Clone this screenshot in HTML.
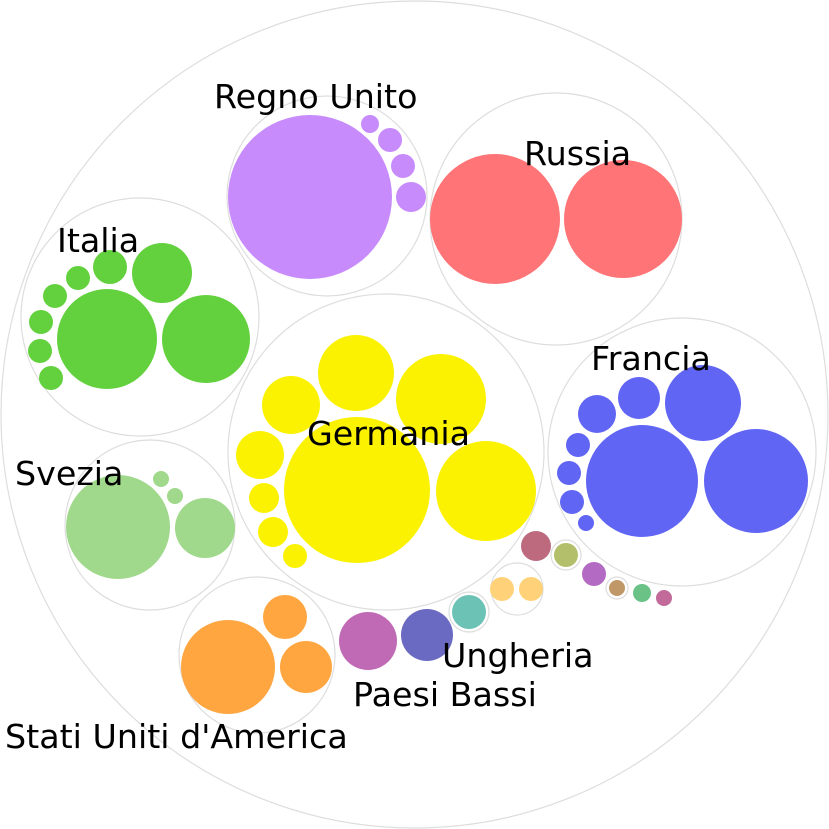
<!DOCTYPE html>
<html><head><style>body{margin:0;background:#fff}svg{display:block}text{font-family:"DejaVu Sans","Liberation Sans",sans-serif;font-size:33.3px;fill:#000}</style></head><body>
<svg width="829" height="829" viewBox="0 0 829 829">
<g fill="none" stroke="#ddd" stroke-width="1.2">
<circle cx="414.5" cy="414.5" r="413.5"/>
<circle cx="327" cy="196" r="100"/>
<circle cx="556" cy="219" r="126"/>
<circle cx="140" cy="317" r="119"/>
<circle cx="386" cy="452" r="158"/>
<circle cx="682" cy="452" r="134"/>
<circle cx="150" cy="525" r="85"/>
<circle cx="257" cy="655" r="78"/>
<circle cx="517" cy="589" r="26"/>
<circle cx="469" cy="612" r="20"/>
<circle cx="566" cy="555" r="15"/>
<circle cx="617" cy="588" r="11"/>
</g>
<g fill="#c78bfc"><circle cx="310" cy="197" r="82"/><circle cx="370" cy="124" r="9"/><circle cx="390" cy="140" r="12"/><circle cx="403" cy="166" r="12"/><circle cx="411" cy="197" r="15"/></g>
<g fill="#ff7477"><circle cx="495" cy="219" r="65"/><circle cx="623" cy="219" r="59"/></g>
<g fill="#63d13e"><circle cx="107" cy="339" r="50"/><circle cx="206" cy="339" r="44"/><circle cx="162" cy="273" r="30"/><circle cx="110" cy="267" r="17"/><circle cx="78" cy="278" r="12"/><circle cx="55" cy="296" r="12"/><circle cx="41" cy="322" r="12"/><circle cx="40" cy="351" r="12"/><circle cx="51" cy="378" r="12"/></g>
<g fill="#faf200"><circle cx="357" cy="490" r="73"/><circle cx="486" cy="491" r="50"/><circle cx="441" cy="399" r="45"/><circle cx="356" cy="373" r="38"/><circle cx="291" cy="405" r="29"/><circle cx="260" cy="455" r="24"/><circle cx="264" cy="498" r="15"/><circle cx="273" cy="532" r="15"/><circle cx="295" cy="556" r="12"/></g>
<g fill="#6165f4"><circle cx="642" cy="481" r="56"/><circle cx="756" cy="481" r="52"/><circle cx="703" cy="403" r="38"/><circle cx="639" cy="398" r="21"/><circle cx="597" cy="414" r="19"/><circle cx="578" cy="445" r="12"/><circle cx="569" cy="473" r="12"/><circle cx="572" cy="502" r="12"/><circle cx="586" cy="523" r="8"/></g>
<g fill="#a0d98b"><circle cx="118" cy="527" r="52"/><circle cx="205" cy="528" r="30"/><circle cx="175" cy="496" r="8"/><circle cx="161" cy="479" r="8"/></g>
<g fill="#ffa640"><circle cx="228" cy="667" r="47"/><circle cx="306" cy="667" r="26"/><circle cx="285" cy="617" r="22"/></g>
<circle cx="368" cy="641" r="29" fill="#c06ab6"/>
<circle cx="427" cy="635" r="26" fill="#6a6ac2"/>
<circle cx="469" cy="612" r="17" fill="#6bc2b5"/>
<circle cx="502" cy="589" r="12" fill="#ffd27a"/><circle cx="531" cy="589" r="12" fill="#ffd27a"/>
<circle cx="536" cy="546" r="15" fill="#be6a7e"/>
<circle cx="566" cy="555" r="12" fill="#b3bf6a"/>
<circle cx="594" cy="574" r="12" fill="#b36ac2"/>
<circle cx="617" cy="588" r="8" fill="#c09868"/>
<circle cx="642" cy="593" r="9" fill="#6ac286"/>
<circle cx="664" cy="598" r="8" fill="#c26a9a"/>
<text x="214" y="108">Regno Unito</text>
<text x="524" y="165">Russia</text>
<text x="57" y="252">Italia</text>
<text x="591" y="370">Francia</text>
<text x="307" y="445">Germania</text>
<text x="15" y="485">Svezia</text>
<text x="442" y="667">Ungheria</text>
<text x="353" y="706">Paesi Bassi</text>
<text x="5" y="748">Stati Uniti d'America</text>
</svg>
</body></html>
